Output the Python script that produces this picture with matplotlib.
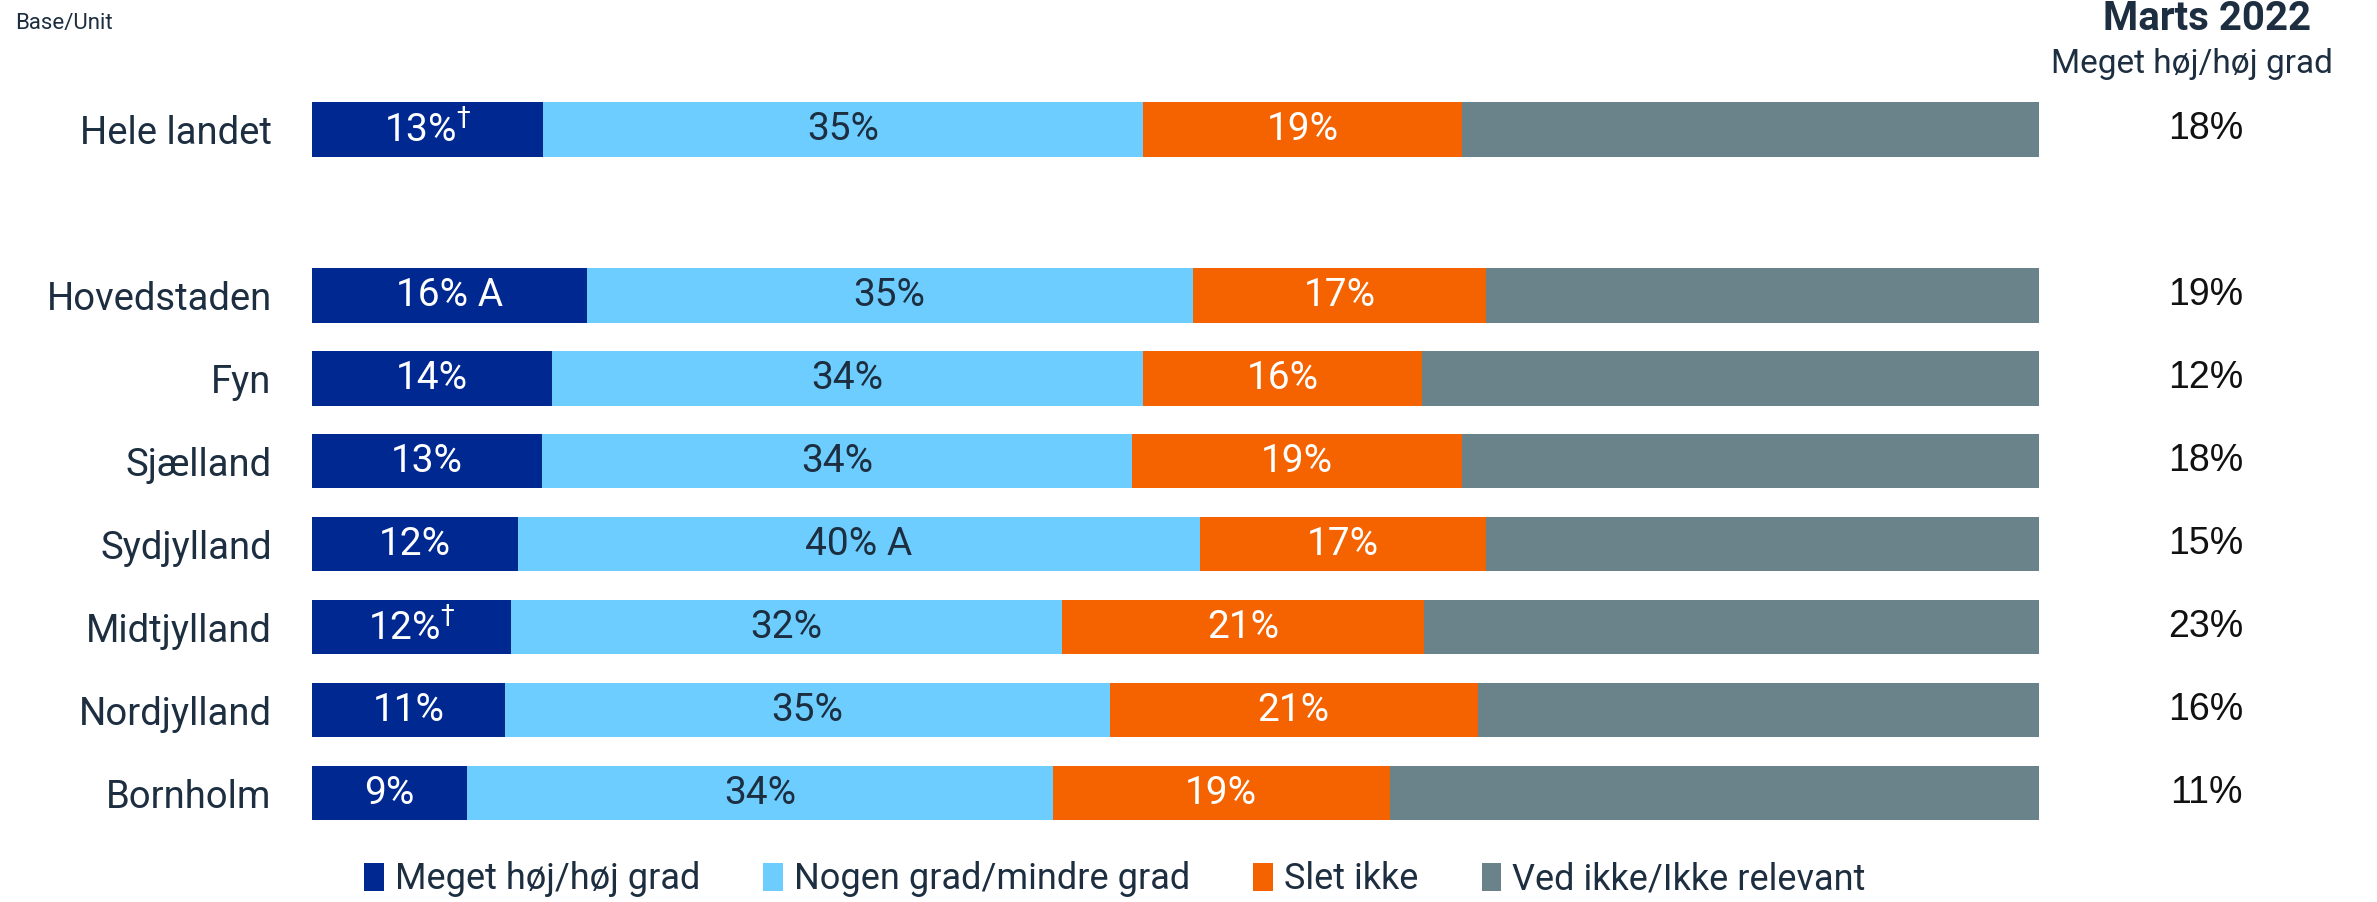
import numpy as np
import matplotlib
matplotlib.use("Agg")
import matplotlib.pyplot as plt
from matplotlib.transforms import blended_transform_factory
from matplotlib.patches import Patch

plt.rcParams["font.family"] = ["Roboto", "DejaVu Sans"]

# ----------------------------------------------------------------------
# data
# ----------------------------------------------------------------------
regions = ["Hele landet", "Hovedstaden", "Fyn", "Sjælland", "Sydjylland",
           "Midtjylland", "Nordjylland", "Bornholm"]
row_pos = [0, 2, 3, 4, 5, 6, 7, 8]

high = [13.4, 15.9, 13.9, 13.3, 11.9, 11.5, 11.2, 9.0]
some = [34.7, 35.1, 34.2, 34.2, 39.5, 31.9, 35.0, 33.9]
not_at_all = [18.5, 17.0, 16.2, 19.1, 16.6, 21.0, 21.3, 19.5]
dont_know = [33.4, 32.0, 35.7, 33.4, 32.0, 35.6, 32.5, 37.6]

high_lbl = ["13%$^{\\dagger}$", "16% A", "14%", "13%", "12%", "12%$^{\\dagger}$", "11%", "9%"]
some_lbl = ["35%", "35%", "34%", "34%", "40% A", "32%", "35%", "34%"]
not_lbl = ["19%", "17%", "16%", "19%", "17%", "21%", "21%", "19%"]

march_2022 = ["18%", "19%", "12%", "18%", "15%", "23%", "16%", "11%"]

series = ["Meget høj/høj grad", "Nogen grad/mindre grad", "Slet ikke", "Ved ikke/Ikke relevant"]
colors = ["#002891", "#6dcdff", "#f56200", "#6a828a"]
text_col = "#1c2e40"

# ----------------------------------------------------------------------
# figure
# ----------------------------------------------------------------------
W, H = 2377, 902
fig = plt.figure(figsize=(W / 100, H / 100), dpi=100)
ax = fig.add_axes([312 / W, 0.0748, 1727 / W, 0.828])

y = np.array(row_pos, float)
left = np.zeros(len(y))
for vals, col, name in zip([high, some, not_at_all, dont_know], colors, series):
    ax.barh(y, vals, left=left, height=0.66, color=col, label=name)
    left += np.array(vals)

fs_bar = 28
for i, yy in enumerate(y):
    ax.text(high[i] / 2, yy, high_lbl[i], ha="center", va="center",
            color="white", fontsize=fs_bar)
    ax.text(high[i] + some[i] / 2, yy, some_lbl[i], ha="center", va="center",
            color=text_col, fontsize=fs_bar)
    ax.text(high[i] + some[i] + not_at_all[i] / 2, yy, not_lbl[i], ha="center",
            va="center", color="white", fontsize=fs_bar)

ax.set_xlim(0, 100)
ax.set_ylim(8.5, -0.5)
ax.set_yticks(y)
ax.set_yticklabels(regions, fontsize=27.5, color=text_col)
ax.tick_params(axis="y", length=0, pad=29)
ax.set_xticks([])
for s in ax.spines.values():
    s.set_visible(False)

# right-hand column
tr = blended_transform_factory(fig.transFigure, ax.transData)
for i, yy in enumerate(y):
    ax.text(2206 / W, yy, march_2022[i], transform=tr, ha="center", va="center",
            fontsize=27, color="#111111", family=["Liberation Sans", "DejaVu Sans"])

fig.text(2207 / W, 1 - 19 / H, "Marts 2022", ha="center", va="center",
         fontsize=29, fontweight="bold", color=text_col)
fig.text(2192 / W, 1 - 64 / H, "Meget høj/høj grad", ha="center", va="center",
         fontsize=24, color=text_col)
fig.text(15 / W, 1 - 23 / H, "Base/Unit", ha="left", va="center",
         fontsize=16, color=text_col)

handles = [Patch(facecolor=c) for c in colors]
fig.legend(handles, series, loc="center", bbox_to_anchor=(0.469, 0.025), ncol=4,
           frameon=False, fontsize=26, handlelength=0.55, handleheight=0.8,
           handletextpad=0.3, columnspacing=1.75, labelcolor=text_col)

fig.savefig("out.png", dpi=100)
